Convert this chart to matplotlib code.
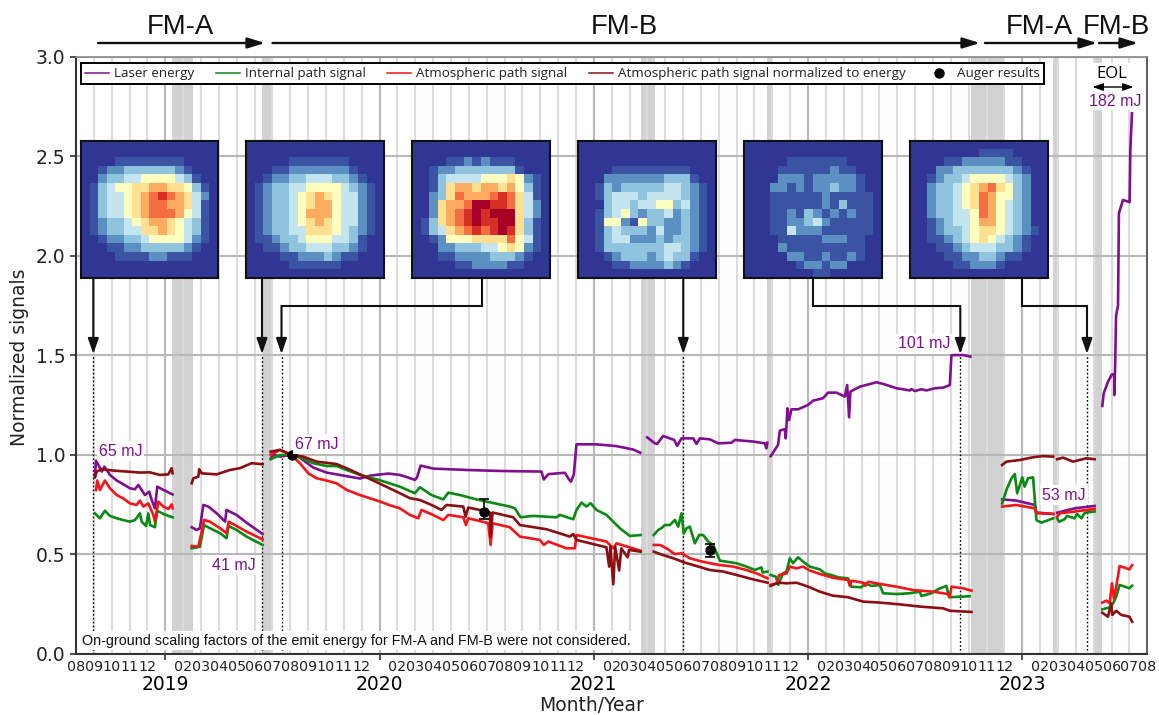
import matplotlib
matplotlib.use("Agg")
import matplotlib.pyplot as plt
from matplotlib.lines import Line2D
from matplotlib.patches import FancyArrowPatch, Rectangle

nan = float("nan")

# x values are months counted from August 2018
laser_months = [1.06,1.12,1.3,1.45,1.59,1.9,2.28,2.65,3.02,3.3,3.49,3.68,3.86,4.1,4.24,4.42,4.55,4.89,5.41,nan,
 6.48,6.76,6.94,7.13,7.41,7.88,8.35,8.43,8.99,9.55,10.45,nan,
 10.9,11.05,11.42,12.07,12.54,13.29,14.03,14.97,15.9,16.5,17.0,17.5,18.14,18.6,18.98,19.1,19.3,20.0,21.87,23.74,26.07,26.2,26.45,27.38,27.57,27.72,27.88,28.03,29.15,30.27,31.2,31.6,nan,
 31.99,32.42,32.55,32.88,33.26,33.5,33.67,33.91,34.57,34.75,34.94,35.5,35.97,36.71,36.9,37.92,38.58,38.67,38.72,nan,
 38.91,39.14,39.32,39.42,39.7,39.75,39.85,39.94,40.07,40.44,41.0,41.29,41.84,42.12,42.59,43.06,43.19,43.3,43.37,43.9,44.83,45.2,45.95,46.7,46.79,46.98,47.35,47.63,48.1,48.56,48.94,49.03,49.68,50.09,nan,
 51.87,52.67,53.7,53.79,54.73,nan,
 54.95,55.93,57.05,nan,
 57.48,57.56,57.8,58.02,58.15,58.15,58.2,58.25,58.36,58.41,58.64,59.01,59.05,59.14]
laser_values = [.889,.97,.94,.915,.94,.898,.87,.851,.831,.826,.848,.822,.797,.814,.772,.73,.839,.823,.80,nan,
 .635,.621,.63,.747,.739,.705,.663,.722,.697,.658,.601,nan,
 .98,1.0,.99,1.0,.985,.935,.91,.895,.88,.895,.90,.905,.898,.885,.873,.885,.945,.93,.923,.918,.915,.875,.902,.909,.881,.864,.90,1.052,1.052,1.043,1.026,1.01,nan,
 1.087,1.057,1.054,1.094,1.082,1.074,1.044,1.082,1.082,1.054,1.082,1.077,1.057,1.06,1.074,1.066,1.057,1.032,1.06,nan,
 .993,1.024,1.049,1.121,1.128,1.082,1.233,1.174,1.228,1.228,1.25,1.272,1.284,1.312,1.312,1.292,1.35,1.188,1.317,1.342,1.364,1.356,1.334,1.323,1.33,1.32,1.329,1.323,1.334,1.337,1.35,1.501,1.501,1.493,nan,
 .775,.769,.747,.709,.702,nan,
 .708,.73,.742,nan,
 1.245,1.309,1.367,1.404,1.401,1.30,1.45,1.70,1.75,2.215,2.281,2.27,2.533,2.717]

internal_months = [1.06,1.34,1.62,1.9,2.28,2.65,3.02,3.3,3.58,3.68,3.92,4.05,4.15,4.42,4.55,4.89,5.17,5.41,nan,
 6.48,6.94,7.17,7.5,8.07,8.43,8.55,9.0,9.55,10.45,nan,
 10.9,11.42,12.07,12.54,13.29,14.03,14.59,15.15,15.9,17.0,18.14,18.98,19.26,19.91,20.57,20.85,21.5,22.43,22.99,24.3,24.58,24.9,25.6,26.91,27.1,27.85,28.03,28.31,28.59,28.82,29.15,29.71,30.46,31.02,31.62,nan,
 32.36,32.6,32.79,32.98,33.26,33.54,33.73,33.91,34.04,34.19,34.38,34.66,34.9,35.12,35.41,35.69,36.06,36.43,36.99,37.55,38.02,38.39,38.45,38.73,nan,
 38.9,39.2,39.33,39.6,39.79,39.98,40.16,40.44,40.72,41.1,41.66,41.94,42.31,42.69,43.24,43.43,43.99,44.18,44.55,45.02,45.2,45.95,46.69,47.26,47.35,47.91,48.28,48.75,48.9,50.05,nan,
 51.87,52.11,52.39,52.58,52.71,53.0,53.13,53.32,53.6,53.73,53.79,54.07,54.73,nan,
 54.95,55.06,55.37,55.5,55.93,56.06,56.31,56.5,57.05,nan,
 57.48,57.89,58.08,58.26,58.45,59.0,59.15]
internal_values = [.705,.68,.718,.692,.68,.671,.663,.671,.705,.663,.641,.705,.646,.635,.718,.702,.692,.685,nan,
 .529,.537,.646,.63,.605,.58,.641,.621,.588,.546,nan,
 .977,.998,1.0,.987,.957,.943,.943,.923,.898,.872,.839,.806,.836,.797,.775,.809,.797,.775,.764,.739,.73,.685,.692,.685,.697,.675,.722,.759,.739,.756,.722,.697,.63,.591,.596,nan,
 .596,.621,.63,.646,.646,.672,.638,.705,.604,.63,.638,.554,.596,.596,.563,.546,.467,.462,.454,.437,.42,.433,.407,.412,nan,
 .395,.386,.345,.403,.412,.479,.454,.484,.462,.437,.423,.403,.395,.383,.378,.336,.333,.353,.34,.345,.303,.299,.303,.311,.289,.303,.323,.34,.283,.288,nan,
 .755,.822,.881,.903,.806,.886,.839,.881,.886,.739,.671,.658,.68,nan,
 .68,.663,.675,.692,.68,.702,.68,.708,.714,nan,
 .222,.232,.252,.286,.345,.328,.341]

atm_months = [1.12,1.19,1.34,1.62,1.9,2.28,2.65,3.02,3.39,3.58,3.77,4.05,4.33,4.42,4.61,4.89,5.17,5.36,5.41,nan,
 6.48,6.85,7.04,7.17,7.5,8.07,8.43,8.55,9.0,9.55,10.45,nan,
 10.9,11.42,12.07,12.54,13.01,13.48,14.03,14.59,15.15,15.9,17.0,17.6,18.14,18.7,19.17,19.35,20.0,20.57,20.85,21.69,21.84,21.97,22.99,23.09,23.22,23.33,24.3,24.86,25.98,26.2,26.45,27.47,27.94,28.03,29.71,30.09,30.27,31.62,nan,
 32.36,32.7,33.07,33.54,33.91,34.38,34.94,35.5,36.06,36.81,37.55,38.2,38.73,nan,
 38.9,39.23,39.38,39.79,39.98,40.35,40.72,41.1,41.66,42.38,43.24,43.34,43.43,44.08,44.21,44.36,45.02,45.95,46.88,48.0,48.84,48.94,49.03,49.68,50.15,nan,
 51.87,52.67,53.7,53.79,54.73,nan,
 54.95,55.1,55.93,57.05,nan,
 57.48,57.7,57.89,58.02,58.13,58.26,58.45,59.0,59.15]
atm_values = [.822,.87,.822,.87,.831,.797,.78,.755,.747,.769,.739,.755,.697,.663,.764,.739,.727,.75,.73,nan,
 .541,.537,.613,.672,.663,.63,.605,.663,.641,.613,.574,nan,
 .999,1.024,.999,.957,.906,.881,.87,.856,.823,.797,.765,.745,.73,.697,.68,.722,.697,.671,.697,.685,.646,.68,.658,.655,.546,.655,.635,.588,.571,.546,.563,.529,.529,.596,.563,.529,.554,.517,nan,
 .546,.546,.529,.5,.504,.479,.465,.454,.445,.437,.42,.40,.378,nan,
 .345,.353,.395,.403,.437,.428,.437,.417,.40,.381,.37,.34,.366,.356,.34,.361,.35,.336,.319,.311,.299,.283,.336,.328,.316,nan,
 .739,.747,.73,.705,.702,nan,
 .688,.705,.714,.727,nan,
 .256,.266,.252,.353,.277,.336,.44,.423,.445]

norm_months = [1.06,1.16,1.44,2.09,2.84,3.58,4.14,4.70,5.17,5.36,5.41,nan,
 6.48,6.57,6.85,6.9,7.04,7.88,8.62,9.18,9.83,10.45,nan,
 10.9,11.42,12.07,12.73,13.48,14.59,15.15,15.9,17.0,18.14,18.7,19.26,19.91,20.47,20.75,21.69,21.82,21.97,23.03,23.18,23.22,23.33,24.49,24.86,26.35,27.66,27.85,28.03,29.71,29.86,29.93,30.09,30.2,30.42,30.54,30.89,30.98,31.62,nan,
 32.36,32.88,33.45,34.1,34.75,35.5,36.25,36.99,37.92,38.73,nan,
 38.9,39.33,39.79,40.35,40.72,41.1,41.66,42.38,43.24,44.08,45.02,46.14,47.26,48.57,48.94,50.15,nan,
 51.87,52.11,52.86,53.6,54.16,54.73,nan,
 54.95,55.28,55.84,56.59,57.05,nan,
 57.48,57.8,57.98,58.04,58.26,58.54,59.0,59.15]
norm_values = [.886,.915,.927,.92,.915,.91,.911,.898,.901,.932,.906,nan,
 .856,.881,.889,.927,.906,.901,.923,.932,.957,.952,nan,
 1.015,1.024,.999,.99,.965,.953,.932,.901,.855,.806,.781,.772,.747,.722,.747,.739,.688,.734,.714,.709,.588,.709,.685,.646,.625,.588,.601,.571,.534,.437,.537,.348,.537,.417,.529,.484,.521,.512,nan,
 .512,.495,.479,.457,.44,.42,.412,.395,.373,.356,nan,
 .34,.356,.353,.356,.345,.333,.311,.291,.283,.261,.256,.247,.236,.227,.215,.209,nan,
 .948,.965,.973,.987,.993,.99,nan,
 .977,.985,.965,.982,.977,nan,
 .205,.185,.252,.194,.215,.194,.185,.16]

auger_months = [12.07, 22.86, 35.52]
auger_values = [1.0, .714, .52]
auger_err_low = [0.0, .039, .036]
auger_err_high = [0.0, .063, .03]

outage_starts = [5.36, 10.43, 31.65, 38.7, 50.1, 54.7, 56.98]
outage_ends = [6.53, 10.96, 32.44, 39.03, 51.9, 55.04, 57.48]
event_months = [0.97, 10.41, 11.51, 34.0, 49.52, 56.6]

month_names = ["08","09","10","11","12","01","02","03","04","05","06","07"]
year_labels = ["2019","2020","2021","2022","2023"]
legend_labels = ["Laser energy","Internal path signal","Atmospheric path signal",
                 "Atmospheric path signal normalized to energy","Auger results"]

# spot profiles, one digit per cell (a = top of the colour scale)
profile_1 = ["0000000000000000","0000000000000000","0000111111110000","0012233333321000",
 "0023344555543100","0134556677665310","0134456789876420","0134456788776410",
 "0134456788875410","0123345677654310","0123344667654310","0012233455554210",
 "0001122333332100","0000111122111000","0000000000000000","0000000000000000"]
profile_2 = ["0000000000000000","0000000000000000","0000011111110000","0001122222221000",
 "0012233444332100","0123344555543210","0123345676544210","0123345677544210",
 "0123345777544210","0123345676544210","0123344666543210","0112334555443100",
 "0011233444332100","0000112223211000","0000011111100000","0000000000000000"]
profile_3 = ["0000000000000000","0000000000000000","0000112121110000","0012233333331000",
 "0013444455565210","0013677677675310","0023687778986410","0026778aa9986420",
 "0026789a9aaa6420","0136789a99aa6310","0134678989a96310","0012555666685410",
 "0002233344565210","0001122223332100","0000011222211000","0000000000000000"]
profile_4 = ["0000000000000000","0000000000000000","0000000000000000","0000111111111000",
 "0002222222333100","0013233333443210","0013444344443210","0003443445534210",
 "0013453233423210","0015521533223210","0013433324223210","0013442223233210",
 "0013333333443210","0001233323433100","0000112222321000","0000000000000000"]
profile_5 = ["0000000000000000","0000000000000000","0000011111110000","0000111111211000",
 "0000222122222100","0002212122322100","0001111112111110","0001111112131110",
 "0001121321212110","0001122342111110","0001142221111110","0000111112221100",
 "0000211111111100","0000022112112100","0000001221220000","0000000011000000"]
profile_6 = ["0000000000000000","0000000011110000","0000112222211000","0002233333332100",
 "0012334555543200","0023345678653200","0023345687553200","0023345687543200",
 "0023344587543200","0012344577543200","0012334566543210","0011234565432100",
 "0001123444332100","0000112233211000","0000011222100000","0000000000000000"]
profiles = [profile_1, profile_2, profile_3, profile_4, profile_5, profile_6]
profile_levels = [0, .5, 1.5, 2.5, 3.5, 5, 6, 7, 8, 9, 10]

PURPLE = "#800f8f"
GREEN = "#0a8a12"
RED = "#f5141a"
DARK = "#8b0f12"
GRID_LIGHT = "#dcdcdc"
GRID_DARK = "#b8b8b8"
BAND = "#d2d2d2"

W, H = 1159, 715
def fx(x): return x / W
def fy(y): return 1 - y / H

plt.rcParams["font.family"] = "DejaVu Sans"
fig = plt.figure(figsize=(W / 100, H / 100), dpi=100)
ax = fig.add_axes([fx(76), fy(653.5), fx(1147.3) - fx(76), fy(57) - fy(653.5)])
ax.set_xlim(0, 60)
ax.set_ylim(0, 3)

for a, b in zip(outage_starts, outage_ends):
    ax.axvspan(a, b, color=BAND, lw=0, zorder=0.5)

n_months = 61
major = [i for i in range(n_months) if month_names[i % 12] == "01"]
ax.set_xticks(major)
ax.set_xticklabels(year_labels, fontsize=13.5)
ax.set_xticks(list(range(n_months)), minor=True)
ax.set_xticklabels(["" if i in major else month_names[i % 12] for i in range(n_months)],
                   minor=True, fontsize=10.3)
ax.tick_params(axis="x", which="major", length=4, width=1.2, pad=11.5, color="#333333")
ax.tick_params(axis="x", which="minor", length=0, pad=5, labelcolor="#222222")
ax.set_yticks([0, .5, 1, 1.5, 2, 2.5, 3])
ax.set_yticklabels(["0.0","0.5","1.0","1.5","2.0","2.5","3.0"], fontsize=13.5)
ax.tick_params(axis="y", length=4, width=1.2, color="#333333", labelcolor="#222222")
ax.set_axisbelow(True)
ax.grid(axis="x", which="minor", color=GRID_LIGHT, lw=1.5)
ax.grid(axis="x", which="major", color=GRID_DARK, lw=1.5)
ax.grid(axis="y", which="major", color=GRID_DARK, lw=1.5)

ax.spines["left"].set(color="#333333", lw=1.5)
ax.spines["bottom"].set(color="#333333", lw=1.5)
ax.spines["top"].set(color="#8a8a8a", lw=1.2)
ax.spines["right"].set(color="#444444", lw=1.2)

ax.set_xlabel("Month/Year", fontsize=13.5, va="center", color="#222222")
ax.xaxis.set_label_coords(0.481, -0.088)
ax.set_ylabel("Normalized signals", fontsize=13.5, va="center", color="#222222")
ax.yaxis.set_label_coords(-0.053, 0.497)

for m in event_months:
    ax.plot([m, m], [0, 1.5], color="black", lw=1.0, ls=(0, (1.2, 1.6)), zorder=2)

ax.plot(laser_months, laser_values, color=PURPLE, lw=1.9, zorder=3)
ax.plot(internal_months, internal_values, color=GREEN, lw=1.9, zorder=3.1)
ax.plot(atm_months, atm_values, color=RED, lw=1.9, zorder=3.2)
ax.plot(norm_months, norm_values, color=DARK, lw=1.9, zorder=3.3)
ax.errorbar(auger_months, auger_values, yerr=[auger_err_low, auger_err_high], fmt="o",
            color="black", ms=6.5, lw=1.2, capsize=3.5, capthick=1.2, zorder=4)

white = dict(facecolor="white", edgecolor="none", pad=1.5)
def energy(text, x, y, box=True):
    fig.text(fx(x), fy(y), text, color=PURPLE, fontsize=11.5, family="Liberation Sans",
             ha="center", va="center", bbox=white if box else None, zorder=3)

energy("65 mJ", 120.5, 451)
energy("41 mJ", 234, 565)
energy("67 mJ", 316.5, 444)
energy("101 mJ", 924.5, 344)
energy("53 mJ", 1064, 495)

fig.add_artist(Rectangle((fx(1089), fy(110)), fx(44), fy(63) - fy(110),
                         transform=fig.transFigure, facecolor="white", edgecolor="none", zorder=2.5))
energy("182 mJ", 1115, 102, box=False)
fig.text(fx(1112), fy(74), "EOL", fontsize=12, family="Open Sans", ha="center", va="center", zorder=3)
fig.add_artist(FancyArrowPatch((fx(1092.5), fy(87)), (fx(1133.5), fy(87)), transform=fig.transFigure,
               arrowstyle="<|-|>,head_length=0.45,head_width=0.16", mutation_scale=14, lw=1.0,
               color="black", shrinkA=0, shrinkB=0, zorder=3))

fig.text(fx(82), fy(640.5), "On-ground scaling factors of the emit energy for FM-A and FM-B were not considered.",
         fontsize=10.4, family="Liberation Sans", ha="left", va="center", color="#111111", zorder=3,
         bbox=dict(facecolor="white", edgecolor="none", pad=2))

handles = [Line2D([], [], color=PURPLE, lw=1.1), Line2D([], [], color=GREEN, lw=1.1),
           Line2D([], [], color=RED, lw=1.1), Line2D([], [], color=DARK, lw=1.1),
           Line2D([], [], color="black", marker="o", ls="none", ms=6.5)]
leg = ax.legend(handles, legend_labels, ncol=5, loc="upper left",
                bbox_to_anchor=((80.7 - 76) / 1071.3, (653.5 - 63.3) / 596.5),
                borderaxespad=0, fancybox=False, framealpha=1, edgecolor="black",
                prop={"family": "Open Sans", "size": 9.6}, handlelength=1.8, handletextpad=0.4,
                columnspacing=1.6, borderpad=0.3, labelcolor="#222222")
leg.get_frame().set_linewidth(1.4)
leg.set_zorder(6)

spots = [(80.7, 217.7), (246, 383.7), (412, 550), (578, 715.7), (744, 881.7), (910, 1047.7)]
for (x0, x1), grid in zip(spots, profiles):
    cell = [[profile_levels[int(c, 16)] for c in row] for row in grid]
    iax = fig.add_axes([fx(x0), fy(277.7), fx(x1) - fx(x0), fy(140.7) - fy(277.7)], zorder=5)
    iax.imshow(cell, cmap="RdYlBu_r", vmin=0, vmax=10, aspect="auto", interpolation="nearest")
    iax.set_xticks([]); iax.set_yticks([])
    for s in iax.spines.values():
        s.set(color="#111111", lw=1.5)

def route(points):
    xs = [fx(p[0]) for p in points]
    ys = [fy(p[1]) for p in points]
    fig.add_artist(Line2D(xs[:-1], ys[:-1], color="#111111", lw=1.5, transform=fig.transFigure,
                          solid_joinstyle="miter", zorder=3))
    fig.add_artist(FancyArrowPatch((xs[-2], ys[-2]), (xs[-1], ys[-1]), transform=fig.transFigure,
                   arrowstyle="-|>,head_length=0.58,head_width=0.2", mutation_scale=16, lw=1.5,
                   color="#111111", shrinkA=0, shrinkB=0, zorder=3))

route([(93.3, 278), (93.3, 354)])
route([(262, 278), (262, 354)])
route([(482, 278), (482, 306), (281.5, 306), (281.5, 354)])
route([(683.3, 278), (683.3, 354)])
route([(813, 278), (813, 306), (960.3, 306), (960.3, 354)])
route([(1022, 278), (1022, 306), (1087, 306), (1087, 354)])

for x0, x1 in [(98, 265), (272.5, 980), (985, 1097), (1099, 1138)]:
    fig.add_artist(FancyArrowPatch((fx(x0), fy(43)), (fx(x1), fy(43)), transform=fig.transFigure,
                   arrowstyle="-|>,head_length=0.65,head_width=0.2", mutation_scale=16, lw=1.7,
                   color="#111111", shrinkA=0, shrinkB=0))
for text, x in [("FM-A", 180), ("FM-B", 624.5), ("FM-A", 1039), ("FM-B", 1116.5)]:
    fig.text(fx(x), fy(27.5), text, fontsize=19.8, family="Liberation Sans", ha="center", va="center", color="#111111")

fig.savefig("out.png", dpi=100)
